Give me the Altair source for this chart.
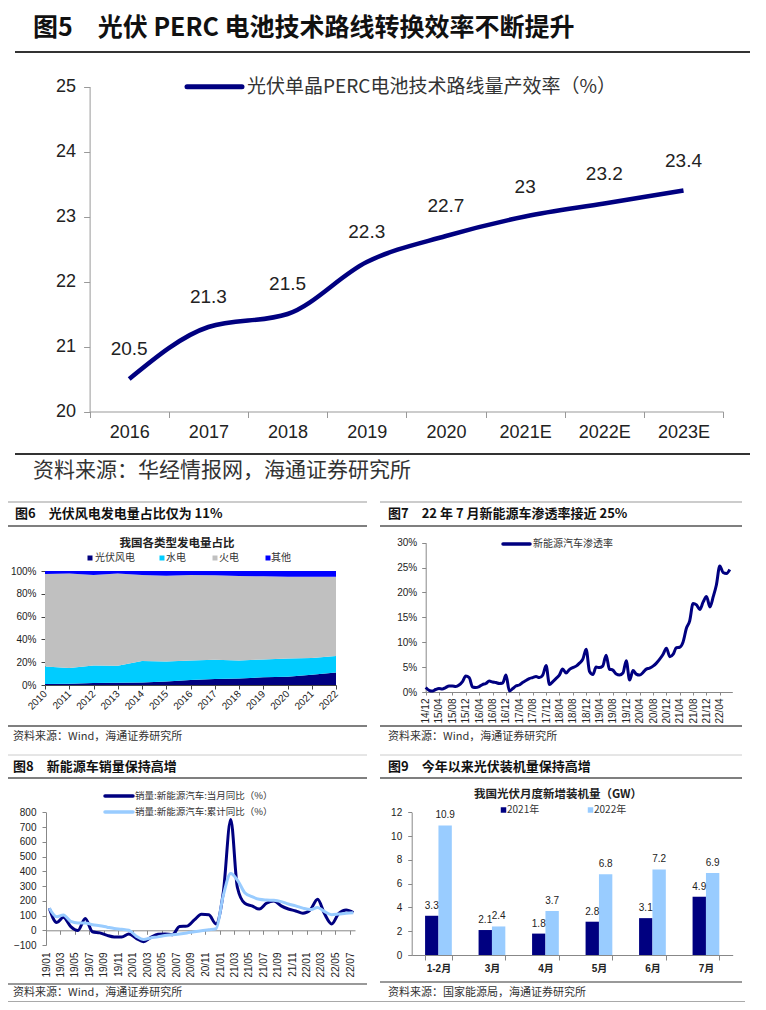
import altair as alt
import pandas as pd

W, H = 750, 994
CJK = "Noto Sans CJK SC"
LAT = "Liberation Sans"
MIX = "Liberation Sans, Noto Sans CJK SC"

# ---------------- data ----------------
eff_years = ["2016", "2017", "2018", "2019", "2020", "2021E", "2022E", "2023E"]
eff_values = [20.5, 21.3, 21.5, 22.3, 22.7, 23.0, 23.2, 23.4]
eff_labels = ["20.5", "21.3", "21.5", "22.3", "22.7", "23", "23.2", "23.4"]

gen_years = ["2010", "2011", "2012", "2013", "2014", "2015", "2016",
             "2017", "2018", "2019", "2020", "2021", "2022"]
gen_series = ["光伏风电", "水电", "火电", "其他"]
gen_colors = ["#000080", "#00CCFF", "#C0C0C0", "#0000FF"]
gen_pvwind = [0.9, 1.2, 1.7, 2.0, 2.3, 3.0, 4.4, 5.2, 5.8, 6.7, 7.3, 9.0, 11.0]
gen_hydro = [15.4, 13.7, 15.5, 14.9, 18.7, 17.7, 17.2, 17.0, 15.8, 15.7, 16.0, 14.6, 14.4]
gen_thermal = [81.1, 82.8, 79.3, 80.8, 75.5, 75.2, 74.9, 74.0, 74.0, 72.9, 71.7, 71.4, 69.6]
gen_other = [2.6, 2.3, 3.5, 2.3, 3.5, 4.1, 3.5, 3.8, 4.4, 4.7, 5.0, 5.0, 5.0]

# NEV penetration, monthly from 2014/12
nev_pen = [0.9, 0.35, 0.2, 0.5, 0.7, 0.6, 0.9, 1.2, 1.2, 1.1,
           1.4, 2.1, 3.2, 2.9, 1.0, 0.9, 1.1, 1.5, 1.7, 2.2,
           2.0, 1.9, 1.7, 1.8, 3.4, 0.2, 0.7, 1.2, 1.4, 1.9,
           2.3, 2.7, 2.9, 3.1, 2.9, 3.4, 5.3, 1.5, 2.1, 2.7,
           3.4, 4.6, 3.8, 4.5, 4.9, 5.2, 5.8, 6.6, 8.6, 4.1,
           3.5, 5.0, 4.9, 5.2, 7.4, 4.6, 4.4, 3.6, 3.4, 3.8,
           6.3, 2.4, 4.3, 3.6, 3.4, 3.9, 4.6, 4.8, 5.2, 5.8,
           6.6, 7.6, 8.8, 7.1, 7.6, 8.9, 9.0, 10.0, 12.8, 14.3,
           17.8, 17.5, 16.6, 18.1, 19.2, 17.1, 19.2, 21.5, 25.3, 24.0,
           23.8, 24.6]

# NEV sales YoY, monthly from 2019/01
nev_month_yoy = [149, 52, 88, 25, -2, 80, -10, -18, -35, -45, -45, -25,
                 -55, -78, -50, -27, -25, -30, 25, 28, 70, 108, 105, 43,
                 260, 752, 290, 183, 165, 144, 183, 199, 165, 144, 131, 115,
                 138, 210, 115, 43, 115, 138, 120]
nev_cum_yoy = [150, 92, 103, 60, 50, 50, 38, 31, 21, 12, 7, 0,
               -40, -63, -52, -45, -36, -31, -25, -18, -10, -3, 3, 10,
               238, 385, 340, 255, 228, 210, 205, 203, 194, 178, 165, 150,
               140, 155, 128, 106, 110, 115, 118]
nev_series = ["销量:新能源汽车:当月同比（%）", "销量:新能源汽车:累计同比（%）"]

pv_months = ["1-2月", "3月", "4月", "5月", "6月", "7月"]
pv_years = ["2021年", "2022年"]
pv_2021 = [3.3, 2.1, 1.8, 2.8, 3.1, 4.9]
pv_2022 = [10.9, 2.4, 3.7, 6.8, 7.2, 6.9]

NAVY = "#000080"
LIGHT = "#99CCFF"


# ---------------- helpers ----------------
def cx(v):
    return v - 8


def cy(v):
    return v - 8


def month_seq(y, m, n, day=1):
    out = []
    for i in range(n):
        k = (m - 1) + i
        out.append(f"{y + k // 12:04d}-{k % 12 + 1:02d}-{day:02d}T00:00:00")
    return out


def dt(y, m, d=1):
    return alt.DateTime(year=y, month=m, date=d)


def dt_seq(y, m, n, step):
    out = []
    for i in range(n):
        k = (m - 1) + i * step
        out.append(dt(y + k // 12, k % 12 + 1))
    return out


def axis(orient, offset, **kw):
    base = dict(orient=orient, offset=offset, title=None, grid=False,
                labelFont=LAT, labelFontSize=10, labelColor="#222",
                domainColor="#888", tickColor="#888", tickSize=4,
                labelPadding=4, labelOverlap=False, labelFlush=False)
    base.update(kw)
    return alt.Axis(**base)


# ---------------- Figure 5 ----------------
df5 = pd.DataFrame({"year": eff_years, "v": eff_values, "lab": eff_labels})
x5 = alt.X("year:N", sort=eff_years,
           scale=alt.Scale(type="band", domain=eff_years, range=[cx(89.6), cx(723.1)],
                           paddingInner=0, paddingOuter=0),
           axis=axis("bottom", cy(411.5) - H, tickBand="extent", tickSize=6, labelPadding=6,
                     labelFontSize=18, labelAngle=0, domainColor="#999", tickColor="#999"))
y5 = alt.Y("v:Q", scale=alt.Scale(domain=[20, 25], range=[cy(411.5), cy(86.5)], nice=False, zero=False),
           axis=axis("left", -cx(89.6), values=[20, 21, 22, 23, 24, 25], tickSize=6,
                     labelPadding=8, labelFontSize=18, domainColor="#999", tickColor="#999"))
line5 = alt.Chart(df5).mark_line(color=NAVY, strokeWidth=4.5, interpolate="monotone").encode(x=x5, y=y5)
text5 = alt.Chart(df5).mark_text(dy=-30, fontSize=19, font=LAT, color="#222").encode(x=x5, y=y5, text="lab:N")
fig5 = alt.layer(line5, text5)

# ---------------- Figure 6 ----------------
rows6 = []
for k, (name, arr) in enumerate(zip(gen_series, [gen_pvwind, gen_hydro, gen_thermal, gen_other])):
    for yr, v in zip(gen_years, arr):
        rows6.append({"year": yr, "s": name, "k": k, "v": v})
df6 = pd.DataFrame(rows6)
fig6 = alt.Chart(df6).mark_area(interpolate="linear").encode(
    x=alt.X("year:O", sort=gen_years,
            scale=alt.Scale(type="point", domain=gen_years, range=[cx(45), cx(336)], padding=0),
            axis=axis("bottom", cy(685) - H, labelAngle=-45, labelAlign="right", labelBaseline="middle",
                      labelPadding=3, domainColor="#444", tickColor="#444")),
    y=alt.Y("v:Q", stack="zero",
            scale=alt.Scale(domain=[0, 100], range=[cy(685), cy(571)], nice=False),
            axis=axis("left", -cx(45), values=[0, 20, 40, 60, 80, 100], labelExpr="datum.value + '%'",
                      domainColor="#444", tickColor="#444", labelPadding=5)),
    color=alt.Color("s:N", scale=alt.Scale(domain=gen_series, range=gen_colors), legend=None),
    order=alt.Order("k:Q", sort="ascending"),
)

# ---------------- Figure 7 ----------------
df7 = pd.DataFrame({"t": month_seq(2014, 12, len(nev_pen)), "v": nev_pen})
fig7 = alt.Chart(df7).mark_line(color=NAVY, strokeWidth=3, interpolate="monotone").encode(
    x=alt.X("t:T", scale=alt.Scale(domain=[dt(2014, 12, 1), dt(2022, 7, 24)],
                                   range=[cx(425.7), cx(732.3)], nice=False),
            axis=axis("bottom", cy(692) - H, values=dt_seq(2014, 12, 23, 4), format="%y/%m",
                      labelAngle=-90, labelAlign="right", labelBaseline="middle",
                      tickSize=3, labelPadding=3)),
    y=alt.Y("v:Q", scale=alt.Scale(domain=[0, 30], range=[cy(692), cy(542.7)], nice=False),
            axis=axis("left", -cx(425.7), values=[0, 5, 10, 15, 20, 25, 30],
                      labelExpr="datum.value + '%'", labelPadding=5)),
)

# ---------------- Figure 8 ----------------
df8 = pd.DataFrame({
    "t": month_seq(2019, 1, len(nev_month_yoy), 15) * 2,
    "v": nev_month_yoy + nev_cum_yoy,
    "s": [nev_series[0]] * len(nev_month_yoy) + [nev_series[1]] * len(nev_cum_yoy),
})
x8_scale = alt.Scale(domain=[dt(2019, 1, 1), dt(2022, 7, 22)], range=[cx(46), cx(355)], nice=False)
y8 = alt.Y("v:Q", scale=alt.Scale(domain=[-100, 800], range=[cy(945), cy(812.3)], nice=False),
           axis=axis("left", -cx(46), values=list(range(-100, 801, 100)), labelPadding=6))
ticks8 = dt_seq(2019, 1, 22, 2)
dark8 = alt.Chart(df8).transform_filter(alt.datum.s == nev_series[0]).mark_line(
    color=NAVY, strokeWidth=3, interpolate="monotone").encode(
    x=alt.X("t:T", scale=x8_scale,
            axis=axis("bottom", cy(945) - H, values=ticks8, format="%y/%m", labelAngle=-90,
                      labelAlign="right", labelBaseline="middle", domain=False, ticks=False,
                      labelPadding=7)),
    y=y8)
light8 = alt.Chart(df8).transform_filter(alt.datum.s == nev_series[1]).mark_line(
    color=LIGHT, strokeWidth=3, interpolate="monotone").encode(
    x=alt.X("t:T", scale=x8_scale,
            axis=axis("bottom", cy(930.3) - H, values=ticks8, labels=False, tickSize=4)),
    y=y8)
fig8 = alt.layer(dark8, light8).resolve_axis(x="independent")

# ---------------- Figure 9 ----------------
rows9 = []
for yr, arr in zip(pv_years, [pv_2021, pv_2022]):
    for m, v in zip(pv_months, arr):
        rows9.append({"m": m, "yr": yr, "v": v})
df9 = pd.DataFrame(rows9)
x9 = alt.X("m:N", sort=pv_months,
           scale=alt.Scale(type="band", domain=pv_months, range=[cx(411.7), cx(732.7)],
                           paddingInner=0.5, paddingOuter=0.25),
           axis=axis("bottom", cy(955) - H, tickBand="extent", labelAngle=0, tickSize=5,
                     labelPadding=3, labelFont=MIX, labelFontWeight="bold"))
xo9 = alt.XOffset("yr:N", sort=pv_years, scale=alt.Scale(domain=pv_years, paddingInner=0))
y9 = alt.Y("v:Q", scale=alt.Scale(domain=[0, 12], range=[cy(955), cy(812.3)], nice=False),
           axis=axis("left", -cx(411.7), values=[0, 2, 4, 6, 8, 10, 12], labelPadding=6))
bars9 = alt.Chart(df9).mark_bar().encode(
    x=x9, xOffset=xo9, y=y9,
    color=alt.Color("yr:N", scale=alt.Scale(domain=pv_years, range=[NAVY, LIGHT]), legend=None))
lab9 = alt.Chart(df9).mark_text(dy=-10, fontSize=10, font=LAT, color="#222").encode(
    x=x9, xOffset=xo9, y=y9, text=alt.Text("v:Q", format=".1f"))
fig9 = alt.layer(bars9, lab9)

# ---------------- page decorations ----------------
rules = pd.DataFrame([
    dict(x=15, x2=750, y=5, c="#333", w=2),
    dict(x=15, x2=750, y=52, c="#333", w=2),
    dict(x=15, x2=750, y=454, c="#333", w=2),
    dict(x=5, x2=367, y=502, c="#999", w=1.2),
    dict(x=5, x2=367, y=526, c="#555", w=1.5),
    dict(x=5, x2=367, y=726, c="#555", w=1.5),
    dict(x=380, x2=742, y=502, c="#999", w=1.2),
    dict(x=380, x2=742, y=526, c="#555", w=1.5),
    dict(x=380, x2=742, y=726, c="#555", w=1.5),
    dict(x=5, x2=367, y=755, c="#ccc", w=1),
    dict(x=380, x2=742, y=755, c="#ccc", w=1),
    dict(x=5, x2=367, y=778, c="#555", w=1.5),
    dict(x=380, x2=742, y=778, c="#555", w=1.5),
    dict(x=5, x2=367, y=984, c="#777", w=1.5),
    dict(x=380, x2=742, y=982, c="#777", w=1.5),
    dict(x=0, x2=745, y=1003, c="#555", w=3),
])
legend_lines = pd.DataFrame([
    dict(x=187, x2=242, y=86.7, c=NAVY, w=5),
    dict(x=503, x2=530, y=544, c=NAVY, w=3.5),
    dict(x=105, x2=133, y=796, c=NAVY, w=3.5),
    dict(x=105, x2=133, y=812, c=LIGHT, w=3.5),
])
squares = pd.DataFrame([
    dict(x=90, y=558, c=gen_colors[0], s=25),
    dict(x=162, y=558, c=gen_colors[1], s=25),
    dict(x=215, y=558, c=gen_colors[2], s=25),
    dict(x=268, y=558, c=gen_colors[3], s=25),
    dict(x=503.5, y=810, c=NAVY, s=30),
    dict(x=590.5, y=810, c=LIGHT, s=30),
])
EM = "\u2003"
bold_left = pd.DataFrame([
    dict(x=33, y=28, t="图5" + EM + "光伏 PERC 电池技术路线转换效率不断提升", fs=25),
    dict(x=15, y=514, t="图6" + EM + "光伏风电发电量占比仅为 11%", fs=13),
    dict(x=388, y=514, t="图7" + EM + "22 年 7 月新能源车渗透率接近 25%", fs=13),
    dict(x=13, y=767, t="图8" + EM + "新能源车销量保持高增", fs=13),
    dict(x=388, y=767, t="图9" + EM + "今年以来光伏装机量保持高增", fs=13),
])
bold_center = pd.DataFrame([
    dict(x=177, y=544, t="我国各类型发电量占比", fs=11.5),
    dict(x=558, y=795, t="我国光伏月度新增装机量（GW）", fs=11.5),
])
plain_left = pd.DataFrame([
    dict(x=247, y=86.7, t="光伏单晶PERC电池技术路线量产效率（%）", fs=19),
    dict(x=33, y=471, t="资料来源：华经情报网，海通证券研究所", fs=21),
    dict(x=95, y=558, t=gen_series[0], fs=10),
    dict(x=166, y=558, t=gen_series[1], fs=10),
    dict(x=219, y=558, t=gen_series[2], fs=10),
    dict(x=271, y=558, t=gen_series[3], fs=10),
    dict(x=533, y=544, t="新能源汽车渗透率", fs=10),
    dict(x=135, y=796, t=nev_series[0], fs=9.5),
    dict(x=135, y=812, t=nev_series[1], fs=9.5),
    dict(x=507, y=810, t=pv_years[0], fs=10),
    dict(x=594, y=810, t=pv_years[1], fs=10),
    dict(x=13, y=737, t="资料来源：Wind，海通证券研究所", fs=11),
    dict(x=388, y=737, t="资料来源：Wind，海通证券研究所", fs=11),
    dict(x=13, y=993, t="资料来源：Wind，海通证券研究所", fs=11),
    dict(x=388, y=993, t="资料来源：国家能源局，海通证券研究所", fs=11),
])
for d in (rules, legend_lines):
    d["x"] = d["x"] - 8
    d["x2"] = d["x2"] - 8
    d["y"] = d["y"] - 8
for d in (squares, bold_left, bold_center, plain_left):
    d["x"] = d["x"] - 8
    d["y"] = d["y"] - 8

PX = alt.X("x:Q", scale=None, axis=None)
PY = alt.Y("y:Q", scale=None, axis=None)

rule_layer = alt.Chart(rules).mark_rule().encode(
    x=PX, x2="x2:Q", y=PY, color=alt.Color("c:N", scale=None),
    strokeWidth=alt.StrokeWidth("w:Q", scale=None))
legline_layer = alt.Chart(legend_lines).mark_rule(strokeCap="round").encode(
    x=PX, x2="x2:Q", y=PY, color=alt.Color("c:N", scale=None),
    strokeWidth=alt.StrokeWidth("w:Q", scale=None))
square_layer = alt.Chart(squares).mark_square(opacity=1).encode(
    x=PX, y=PY, color=alt.Color("c:N", scale=None), size=alt.Size("s:Q", scale=None))
bl_layer = alt.Chart(bold_left).mark_text(align="left", baseline="middle", font=CJK,
                                          fontWeight="bold", color="#111").encode(
    x=PX, y=PY, text="t:N", size=alt.Size("fs:Q", scale=None))
bc_layer = alt.Chart(bold_center).mark_text(align="center", baseline="middle", font=CJK,
                                            fontWeight="bold", color="#222").encode(
    x=PX, y=PY, text="t:N", size=alt.Size("fs:Q", scale=None))
pl_layer = alt.Chart(plain_left).mark_text(align="left", baseline="middle", font=CJK,
                                           color="#333").encode(
    x=PX, y=PY, text="t:N", size=alt.Size("fs:Q", scale=None))

chart = alt.layer(
    rule_layer, fig5, fig6, fig7, fig8, fig9,
    legline_layer, square_layer, bl_layer, bc_layer, pl_layer,
).resolve_scale(
    x="independent", y="independent", color="independent", size="independent",
    strokeWidth="independent", xOffset="independent",
).resolve_axis(
    x="independent", y="independent",
).properties(
    width=W, height=H, padding=0, autosize=alt.AutoSizeParams(type="none"),
    background="white",
).configure_view(stroke=None)

chart.save("out.html", embed_options={"renderer": "svg", "actions": False})
